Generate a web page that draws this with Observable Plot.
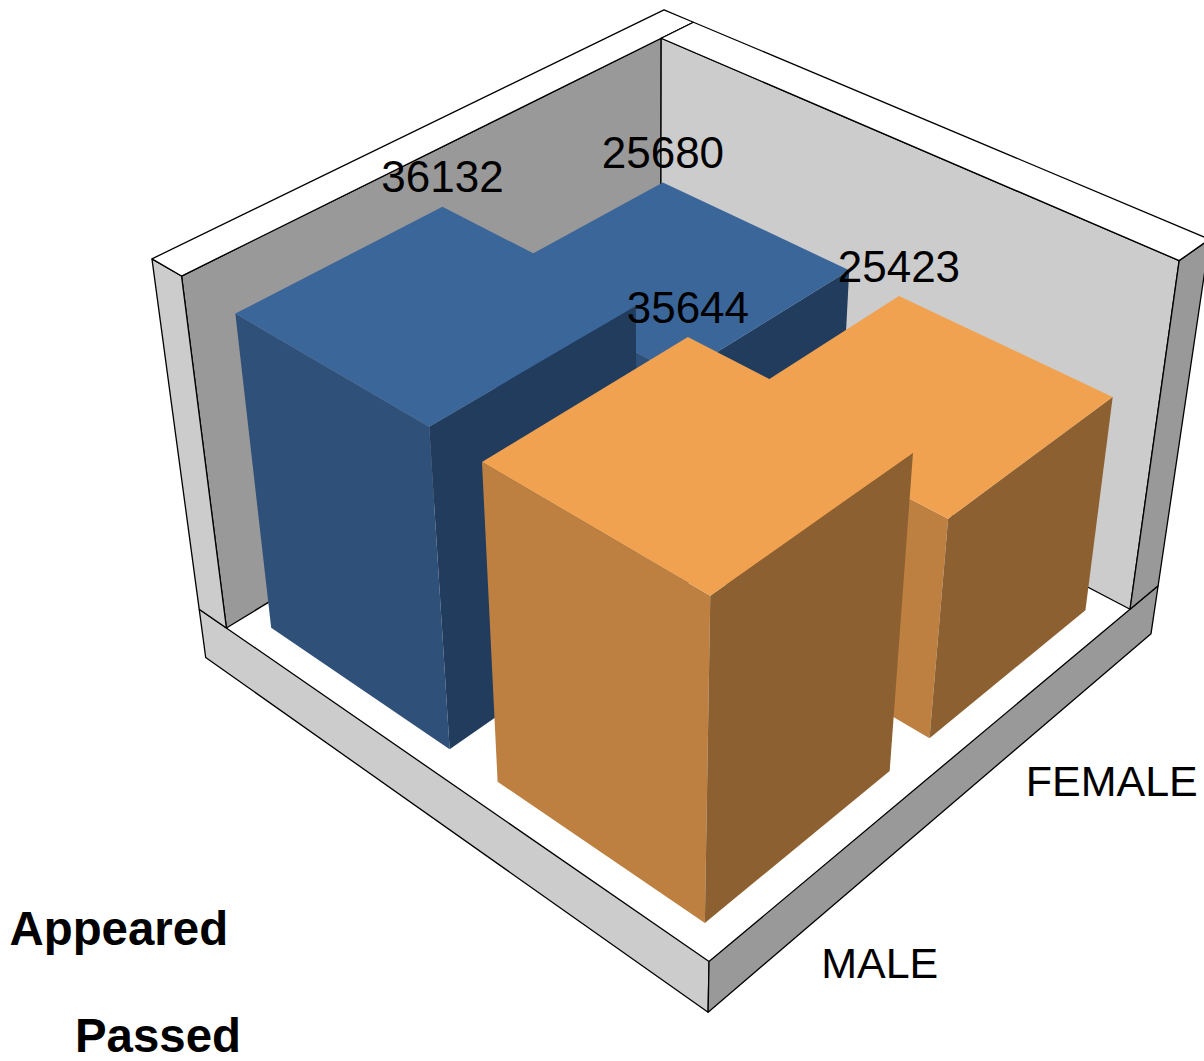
<!doctype html><html><head><meta charset="utf-8"><style>html,body{margin:0;background:#fff;overflow:hidden}svg{display:block}</style></head><body>
<script src="https://cdn.jsdelivr.net/npm/d3@7"></script>
<script src="https://cdn.jsdelivr.net/npm/@observablehq/plot@0.6"></script>
<div id="c"></div>
<script>
const categories = ["MALE", "FEMALE"];
const series = ["Appeared", "Passed"];
const appeared = [36132, 25680];
const passed = [35644, 25423];
const seriesValues = [appeared, passed];

// scene options: camera and box proportions
const camera = [383.44561, 535.63897, -62.031853, 225.89925, 199.04744, -209.45387, -378.08115, 627.48868, -0.13998178, 0.15366429, -0.094898628];
const zMax = 40060;
const wallA = 0.0662, wallB = 0.0796, slab = 0.1545;
const seriesBands = [[0.05, 0.45], [0.55, 0.95]];
const categoryBands = [[0.048, 0.453], [0.548, 0.95]];
const shades = [
  {top: "#3b6699", left: "#2f5078", right: "#223c5e"},
  {top: "#f0a251", left: "#bd8041", right: "#8d6031"}
];

function project([a, b, h]) {
  const m = camera, w = m[8]*a + m[9]*b + m[10]*h + 1;
  return {x: (m[0]*a + m[1]*b + m[2]*h + m[3]) / w, y: (m[4]*a + m[5]*b + m[6]*h + m[7]) / w};
}
const face = (corners, fill, stroke) =>
  Plot.line([...corners, corners[0]].map(project), {x: "x", y: "y", fill, stroke: stroke ? "black" : "none", strokeWidth: 1.3, strokeLinejoin: "miter"});

const boxFaces = [
  [[[0,0,0],[0,1,0],[0,1,1],[0,0,1]], "#999999"],
  [[[0,1,0],[1,1,0],[1,1,1],[0,1,1]], "#cccccc"],
  [[[-wallA,0,-slab],[1,0,-slab],[1,0,0],[-wallA,0,0]], "#cccccc"],
  [[[1,0,-slab],[1,1+wallB,-slab],[1,1+wallB,0],[1,0,0]], "#999999"],
  [[[-wallA,0,0],[0,0,0],[0,0,1],[-wallA,0,1]], "#cccccc"],
  [[[1,1,0],[1,1+wallB,0],[1,1+wallB,1],[1,1,1]], "#999999"],
  [[[-wallA,0,1],[0,0,1],[0,1+wallB,1],[-wallA,1+wallB,1]], "#ffffff"],
  [[[0,1,1],[1,1,1],[1,1+wallB,1],[0,1+wallB,1]], "#ffffff"]
];

function barMarks(s, c) {
  const [a0, a1] = seriesBands[s], [b0, b1] = categoryBands[c];
  const h = seriesValues[s][c] / zMax, col = shades[s];
  return [
    face([[a0,b0,0],[a1,b0,0],[a1,b0,h],[a0,b0,h]], col.left),
    face([[a1,b0,0],[a1,b1,0],[a1,b1,h],[a1,b0,h]], col.right),
    face([[a0,b0,h],[a1,b0,h],[a1,b1,h],[a0,b1,h]], col.top)
  ];
}
// painter's order: far to near
const order = [[0,1],[0,0],[1,1],[1,0]];

const valueLabels = order.map(([s, c]) => {
  const h = seriesValues[s][c] / zMax;
  return {...project([seriesBands[s][0], categoryBands[c][1], h]), text: String(seriesValues[s][c])};
});
const categoryLabels = categories.map((text, c) => ({
  ...project([1.1, (categoryBands[c][0] + categoryBands[c][1]) / 2, -slab]), text
}));

const fontFamily = "Liberation Sans";
const chart = Plot.plot({
  width: 1204, height: 1061, margin: 0,
  style: {fontFamily, background: "#fff"},
  x: {domain: [0, 1204], range: [0, 1204], axis: null},
  y: {domain: [0, 1061], range: [0, 1061], axis: null},
  marks: [
    ...boxFaces.map(([c, fill]) => face(c, fill, true)),
    ...order.flatMap(([s, c]) => barMarks(s, c)),
    Plot.text(valueLabels, {x: "x", y: "y", text: "text", fontSize: 44, dy: -28.5, fill: "black"}),
    Plot.text(categoryLabels, {x: "x", y: "y", text: "text", fontSize: 43, textAnchor: "start", dx: -59.5, dy: 15.5, fill: "black"}),
    Plot.text([series[0]], {frameAnchor: "bottom-left", text: d => d, fontSize: 47.4, fontWeight: "bold", textAnchor: "start", dx: 9, dy: -117, fill: "black"}),
    Plot.text([series[1]], {frameAnchor: "bottom-left", text: d => d, fontSize: 47.4, fontWeight: "bold", textAnchor: "start", dx: 74.5, dy: -10, fill: "black"})
  ]
});
document.getElementById("c").append(chart);
</script></body></html>
